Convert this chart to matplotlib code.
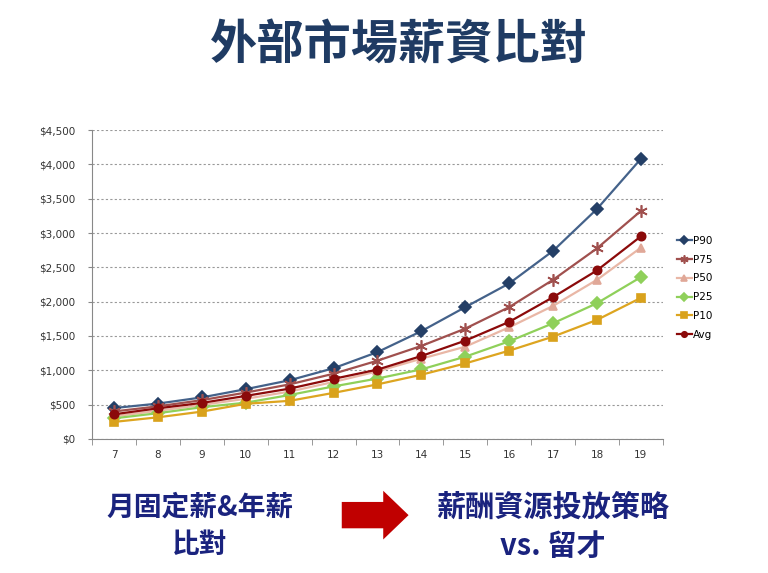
import matplotlib.pyplot as plt
from matplotlib.patches import FancyArrow
from matplotlib.ticker import FuncFormatter, MultipleLocator

plt.rcParams['font.family'] = ['Noto Sans CJK TC', 'DejaVu Sans']

# 職級 (x) 與各分位薪資
levels = [7, 8, 9, 10, 11, 12, 13, 14, 15, 16, 17, 18, 19]
p90 = [450, 515, 605, 725, 855, 1030, 1265, 1570, 1920, 2265, 2740, 3350, 4080]
p75 = [400, 475, 565, 675, 795, 950, 1140, 1355, 1607, 1920, 2318, 2776, 3321]
p50 = [330, 410, 495, 585, 690, 830, 985, 1169, 1344, 1626, 1938, 2318, 2786]
p25 = [300, 375, 462, 528, 640, 765, 880, 1013, 1198, 1422, 1685, 1977, 2357]
p10 = [248, 315, 398, 512, 555, 671, 795, 935, 1100, 1286, 1490, 1734, 2055]
avg = [359, 446, 525, 627, 733, 875, 1010, 1208, 1432, 1705, 2065, 2455, 2951]

series = [
    ("P90", p90, "#44628A", "#243F66", "D", 6),
    ("P75", p75, "#A0504E", "#A0504E", (6, 2, 0), 9),
    ("P50", p50, "#E9B7A6", "#E0A898", "^", 6),
    ("P25", p25, "#8FD05A", "#8FD05A", "D", 6),
    ("P10", p10, "#DDA520", "#D9A21C", "s", 6),
    ("Avg", avg, "#8B0A0A", "#8B0A0A", "o", 6),
]

fig = plt.figure(figsize=(7.68, 5.73), dpi=100)
ax = fig.add_axes([0.12, 0.234, 0.743, 0.539])

for name, vals, lc, mc, mk, ms in series:
    ax.plot(levels, vals, color=lc, lw=1.6, marker=mk, markersize=ms,
            markerfacecolor=mc, markeredgecolor=mc, markeredgewidth=1.2, label=name)

ax.set_xlim(6.5, 19.5)
ax.set_ylim(0, 4500)
ax.yaxis.set_major_locator(MultipleLocator(500))
ax.yaxis.set_major_formatter(FuncFormatter(lambda v, p: f"${v:,.0f}"))
ax.set_xticks(levels)
ax.set_xticks([l - 0.5 for l in levels] + [19.5], minor=True)
ax.tick_params(axis='x', which='major', length=0, pad=8, labelsize=7.5, labelcolor='#333333')
ax.tick_params(axis='x', which='minor', length=4, color='#888888')
ax.tick_params(axis='y', length=3, pad=9, color='#888888', labelsize=7.5, labelcolor='#333333')
for lab in ax.get_xticklabels() + ax.get_yticklabels():
    lab.set_family('DejaVu Sans')
ax.grid(axis='y', linestyle=(0, (2, 2)), color='#999999', lw=0.8)
ax.set_axisbelow(True)
for s in ['top', 'right']:
    ax.spines[s].set_visible(False)
for s in ['left', 'bottom']:
    ax.spines[s].set_color('#888888')

ax.legend(loc='upper left', bbox_to_anchor=(1.015, 0.675), frameon=False,
          prop={'family': 'DejaVu Sans', 'size': 7.5}, markerscale=0.65,
          handlelength=1.5, handletextpad=0.1, labelspacing=0.85, borderpad=0)

fig.text(0.52, 0.922, "外部市場薪資比對", ha='center', va='center', fontsize=34,
         fontweight='semibold', color='#1F3B63')

blue = '#1A237E'
fig.text(0.26, 0.115, "月固定薪&年薪", ha='center', va='center', fontsize=20, fontweight='semibold', color=blue)
fig.text(0.26, 0.048, "比對", ha='center', va='center', fontsize=20, fontweight='semibold', color=blue)
fig.text(0.72, 0.115, "薪酬資源投放策略", ha='center', va='center', fontsize=21, fontweight='semibold', color=blue)
fig.text(0.72, 0.048, "vs. 留才", ha='center', va='center', fontsize=21, fontweight='semibold', color=blue)

arrow = FancyArrow(0.445, 0.101, 0.087, 0, width=0.046, head_width=0.085, head_length=0.033,
                   length_includes_head=True, transform=fig.transFigure, color='#C00000', lw=0)
fig.patches.append(arrow)

fig.savefig("out.png", dpi=100)
